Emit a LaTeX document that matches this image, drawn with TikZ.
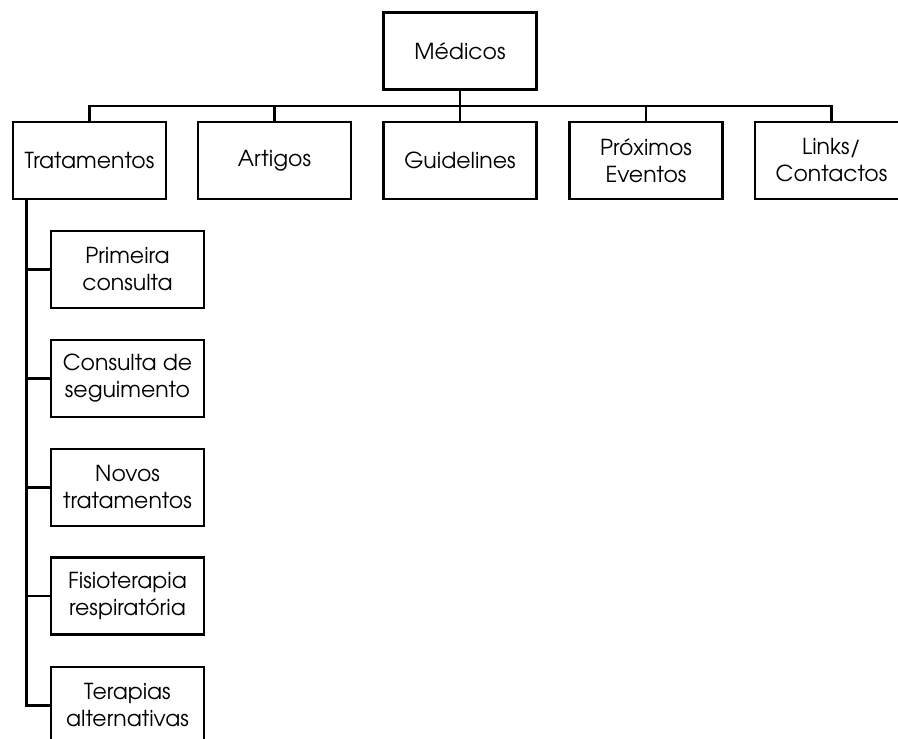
\documentclass[tikz,border=0pt]{standalone}
\usepackage{fontspec}
\setmainfont{TeX Gyre Adventor}
\usepackage{tikz}

\tikzset{
  box/.style={draw, line width=1.3pt, minimum width=76.5pt, minimum height=38.5pt,
    inner sep=1pt, align=center, font=\fontsize{11}{13.5}\selectfont},
  link/.style={line width=1.3pt}
}

\begin{document}
\begin{tikzpicture}[x=0.5pt, y=-0.5pt]

    \useasboundingbox (0,0) rectangle (898,738);
    \clip (0,0) rectangle (898,738);

    \node[box] (med) at (460, 51) {Médicos};
    \node[box] (trat) at (89.5, 160.5) {Tratamentos};
    \node[box] (art) at (274.5, 160.5) {Artigos};
    \node[box] (guid) at (460, 160.5) {Guidelines};
    \node[box] (prox) at (646, 160.5) {Próximos\\Eventos};
    \node[box] (links) at (831.5, 160.5) {Links/\\Contactos};

    \node[box] (prim) at (127.5, 269.5) {Primeira\\consulta};
    \node[box] (seg) at (127.5, 378.5) {Consulta de\\seguimento};
    \node[box] (novos) at (127.5, 487.5) {Novos\\tratamentos};
    \node[box] (fisio) at (127.5, 596) {Fisioterapia\\respiratória};
    \node[box] (terap) at (127.5, 705.5) {Terapias\\alternativas};

    \coordinate (bus) at (460, 106);

    \draw [link] (med) -- (guid);
    \draw [link] (bus) -| (trat.north);
    \draw [link] (bus) -| (art.north);
    \draw [link] (bus) -| (prox.north);
    \draw [link] (bus) -| (links.north);

    \draw [link] ([xshift=7.5pt]trat.south west) |- (prim.west);
    \draw [link] ([xshift=7.5pt]trat.south west) |- (seg.west);
    \draw [link] ([xshift=7.5pt]trat.south west) |- (novos.west);
    \draw [link] ([xshift=7.5pt]trat.south west) |- (fisio.west);
    \draw [link] ([xshift=7.5pt]trat.south west) |- (terap.west);

\end{tikzpicture}
\end{document}
